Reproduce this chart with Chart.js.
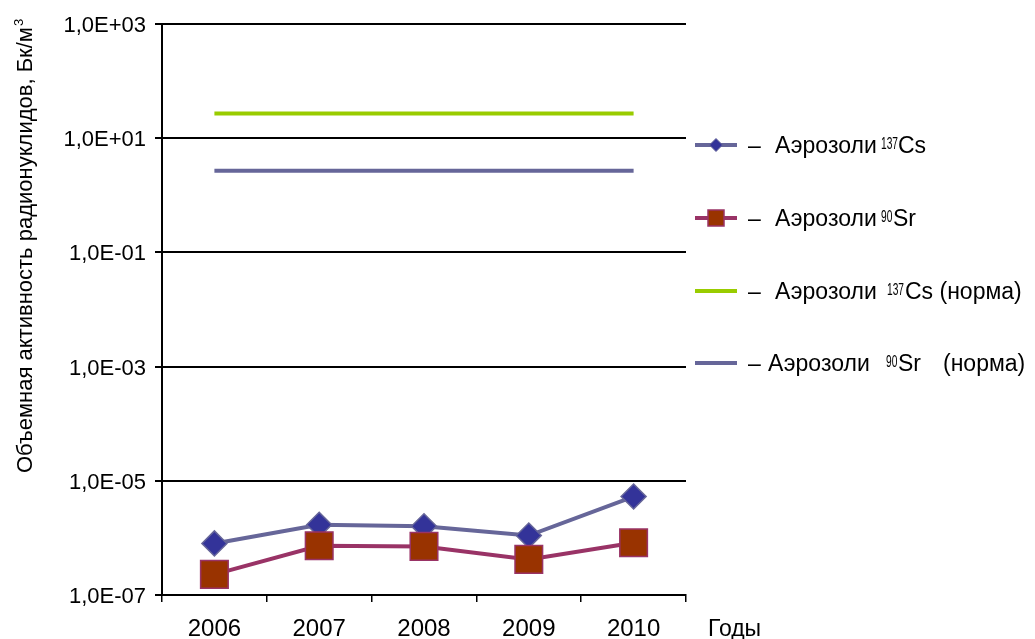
<!DOCTYPE html>
<html lang="ru">
<head>
<meta charset="utf-8">
<title>Объемная активность радионуклидов в аэрозолях</title>
<script src="https://cdn.jsdelivr.net/npm/chart.js@4/dist/chart.umd.min.js"></script>
<style>
  html, body { margin: 0; padding: 0; background: #ffffff; }
  #wrap { width: 1035px; height: 639px; position: relative; }
</style>
</head>
<body>
<div id="wrap"><canvas id="chart" width="1035" height="639"></canvas></div>
<script>
// Годы наблюдений
const years = ['2006', '2007', '2008', '2009', '2010'];
// Объемная активность в аэрозолях, Бк/м3
const cs137 = [8.0e-7, 1.7e-6, 1.6e-6, 1.1e-6, 5.3e-6];
const sr90 = [2.3e-7, 7.3e-7, 7.1e-7, 4.2e-7, 8.2e-7];
// Допустимые уровни (норма), Бк/м3
const cs137Norm = [27, 27, 27, 27, 27];
const sr90Norm = [2.7, 2.7, 2.7, 2.7, 2.7];
// Деления логарифмической оси
const yTicks = [1e-7, 1e-5, 1e-3, 1e-1, 1e1, 1e3];

const FONT = '"Liberation Sans", Arial, sans-serif';

function sciLabel(v) {
  const e = Math.round(Math.log10(v));
  const sign = e < 0 ? '-' : '+';
  return '1,0E' + sign + String(Math.abs(e)).padStart(2, '0');
}

// Легенда
const legendRows = [
  { y: 145, color: '#666699', marker: 'diamond',
    parts: [['–', 748], ['Аэрозоли', 775], ['137', 881, true], ['Cs', 898]] },
  { y: 218, color: '#993366', marker: 'square',
    parts: [['–', 748], ['Аэрозоли', 775], ['90', 881, true], ['Sr', 893]] },
  { y: 291, color: '#99CC00', marker: null,
    parts: [['–', 748], ['Аэрозоли', 775], ['137', 887, true], ['Cs (норма)', 905]] },
  { y: 363, color: '#666699', marker: null,
    parts: [['–', 748], ['Аэрозоли', 768], ['90', 886, true], ['Sr', 898], ['(норма)', 943]] }
];

function drawSup(ctx, text, x, baseline, size) {
  ctx.save();
  ctx.translate(x, baseline);
  ctx.scale(0.6, 1);
  ctx.font = size + 'px ' + FONT;
  ctx.textAlign = 'left';
  ctx.textBaseline = 'alphabetic';
  ctx.fillText(text, 0, 0);
  ctx.restore();
}

const annotations = {
  id: 'annotations',
  afterDraw(chart) {
    const ctx = chart.ctx;
    ctx.save();
    ctx.fillStyle = '#000000';

    // Подпись оси Y
    ctx.save();
    ctx.translate(32, 473);
    ctx.rotate(-Math.PI / 2);
    ctx.font = '22px ' + FONT;
    ctx.textAlign = 'left';
    ctx.textBaseline = 'alphabetic';
    const title = 'Объемная активность радионуклидов, Бк/м';
    ctx.fillText(title, 0, 0);
    const w = ctx.measureText(title).width;
    ctx.font = '13px ' + FONT;
    ctx.fillText('3', w + 1, -9);
    ctx.restore();

    // Подпись оси X
    ctx.font = '23px ' + FONT;
    ctx.textAlign = 'left';
    ctx.textBaseline = 'alphabetic';
    ctx.fillText('Годы', 708, 636);

    // Легенда
    legendRows.forEach(row => {
      ctx.strokeStyle = row.color;
      ctx.lineWidth = 4;
      ctx.beginPath();
      ctx.moveTo(695, row.y);
      ctx.lineTo(737, row.y);
      ctx.stroke();
      if (row.marker === 'diamond') {
        ctx.fillStyle = '#333399';
        ctx.strokeStyle = '#666699';
        ctx.lineWidth = 1;
        ctx.beginPath();
        ctx.moveTo(716 - 6.5, row.y);
        ctx.lineTo(716, row.y - 6.5);
        ctx.lineTo(716 + 6.5, row.y);
        ctx.lineTo(716, row.y + 6.5);
        ctx.closePath();
        ctx.fill();
        ctx.stroke();
      } else if (row.marker === 'square') {
        ctx.fillStyle = '#993300';
        ctx.strokeStyle = '#993366';
        ctx.lineWidth = 1.5;
        ctx.fillRect(708, row.y - 8, 16, 16);
        ctx.strokeRect(708, row.y - 8, 16, 16);
      }
      ctx.fillStyle = '#000000';
      row.parts.forEach(([t, x, sup]) => {
        if (sup) {
          drawSup(ctx, t, x, row.y + 4, 17);
        } else {
          ctx.font = '23px ' + FONT;
          ctx.textAlign = 'left';
          ctx.textBaseline = 'alphabetic';
          ctx.fillText(t, x, row.y + 8);
        }
      });
    });
    ctx.restore();
  }
};

new Chart(document.getElementById('chart'), {
  type: 'line',
  data: {
    labels: years,
    datasets: [
      {
        label: 'Аэрозоли 137Cs',
        data: cs137,
        order: 1,
        borderColor: '#666699',
        borderWidth: 4,
        pointStyle: 'rectRot',
        pointRadius: 12.5,
        pointBackgroundColor: '#333399',
        pointBorderColor: '#666699',
        pointBorderWidth: 1.5,
        tension: 0
      },
      {
        label: 'Аэрозоли 90Sr',
        data: sr90,
        order: 0,
        borderColor: '#993366',
        borderWidth: 4,
        pointStyle: 'rect',
        pointRadius: 19.5,
        pointBackgroundColor: '#993300',
        pointBorderColor: '#993366',
        pointBorderWidth: 1.5,
        tension: 0
      },
      {
        label: 'Аэрозоли 137Cs (норма)',
        data: cs137Norm,
        order: 2,
        borderColor: '#99CC00',
        borderWidth: 4,
        pointRadius: 0
      },
      {
        label: 'Аэрозоли 90Sr (норма)',
        data: sr90Norm,
        order: 3,
        borderColor: '#666699',
        borderWidth: 4,
        pointRadius: 0
      }
    ]
  },
  options: {
    responsive: false,
    animation: false,
    events: [],
    layout: { padding: { left: 0, top: 24, right: 349, bottom: 0 } },
    plugins: {
      legend: { display: false },
      tooltip: { enabled: false },
      title: { display: false }
    },
    scales: {
      x: {
        type: 'category',
        offset: true,
        afterFit(scale) { scale.height = 44; },
        grid: {
          display: true,
          offset: true,
          drawOnChartArea: false,
          drawTicks: true,
          tickLength: 7,
          color: '#000000',
          lineWidth: 1.5
        },
        border: { display: true, color: '#000000', width: 2 },
        ticks: {
          color: '#000000',
          padding: 13,
          font: { family: FONT, size: 24 },
          maxRotation: 0,
          autoSkip: false
        }
      },
      y: {
        type: 'logarithmic',
        min: yTicks[0],
        max: yTicks[yTicks.length - 1],
        afterFit(scale) { scale.width = 162; },
        afterBuildTicks(scale) {
          scale.ticks = yTicks.map(v => ({ value: v }));
        },
        grid: {
          display: true,
          drawOnChartArea: true,
          drawTicks: true,
          tickLength: 7,
          color: '#000000',
          lineWidth: 2
        },
        border: { display: true, color: '#000000', width: 2 },
        ticks: {
          color: '#000000',
          padding: 9,
          labelOffset: 2,
          font: { family: FONT, size: 22 },
          callback: (v) => sciLabel(v)
        }
      }
    }
  },
  plugins: [annotations]
});
</script>
</body>
</html>
